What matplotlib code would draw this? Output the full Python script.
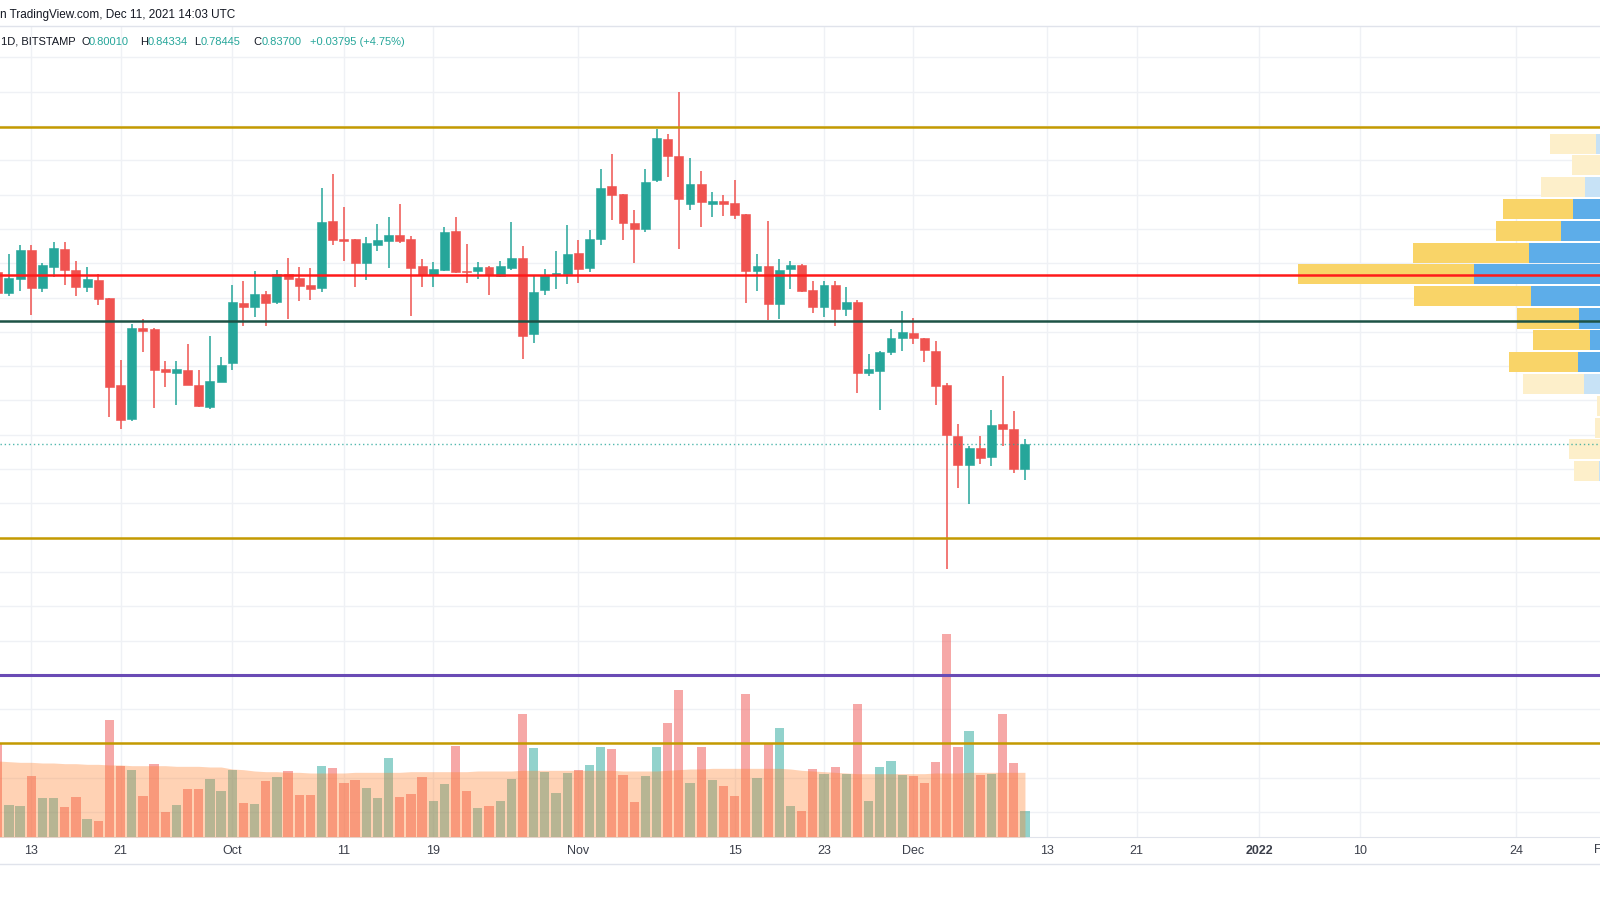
import numpy as np
import pandas as pd
import matplotlib
matplotlib.use("Agg")
import matplotlib.pyplot as plt
import matplotlib.dates as mdates
from matplotlib.lines import Line2D

# XRP/USD daily candles, BITSTAMP
dates = pd.date_range("2021-09-10", "2021-12-11", freq="D")

opens = [1.087, 1.056, 1.077, 1.119, 1.064, 1.095, 1.121, 1.090, 1.065, 1.076,
         1.049, 0.922, 0.873, 1.005, 1.004, 0.946, 0.940, 0.944, 0.922, 0.891, 0.927,
         0.954, 1.042, 1.036, 1.055, 1.043, 1.084, 1.078, 1.068, 1.064, 1.162,
         1.135, 1.135, 1.100, 1.127, 1.133, 1.141, 1.135, 1.096, 1.083, 1.090,
         1.147, 1.089, 1.089, 1.094, 1.081, 1.093, 1.108, 0.997, 1.061, 1.083, 1.084,
         1.115, 1.093, 1.135, 1.212, 1.201, 1.159, 1.150, 1.221, 1.281, 1.257,
         1.187, 1.215, 1.187, 1.190, 1.188, 1.172, 1.089, 1.096, 1.041, 1.092,
         1.098, 1.061, 1.036, 1.068, 1.033, 1.044, 0.940, 0.943, 0.970, 0.991,
         0.999, 0.991, 0.972, 0.922, 0.848, 0.806, 0.830, 0.818, 0.865, 0.859, 0.8001]
highs = [1.095, 1.113, 1.127, 1.127, 1.100, 1.131, 1.131, 1.103, 1.094, 1.084,
         1.049, 0.959, 1.011, 1.019, 1.005, 0.957, 0.957, 0.982, 0.944, 0.994, 0.964,
         1.068, 1.074, 1.089, 1.060, 1.090, 1.108, 1.094, 1.093, 1.209, 1.230,
         1.182, 1.135, 1.138, 1.157, 1.167, 1.187, 1.140, 1.106, 1.102, 1.153,
         1.168, 1.128, 1.102, 1.096, 1.103, 1.160, 1.125, 1.083, 1.092, 1.118, 1.156,
         1.134, 1.148, 1.237, 1.259, 1.201, 1.178, 1.238, 1.296, 1.288, 1.350,
         1.254, 1.234, 1.204, 1.200, 1.221, 1.172, 1.113, 1.162, 1.106, 1.103,
         1.099, 1.074, 1.074, 1.074, 1.065, 1.047, 0.967, 0.972, 1.004, 1.031,
         1.020, 0.991, 0.986, 0.925, 0.865, 0.833, 0.848, 0.886, 0.935, 0.884, 0.84334]
lows = [1.050, 1.052, 1.060, 1.024, 1.058, 1.080, 1.068, 1.052, 1.058, 1.039,
        0.876, 0.859, 0.870, 0.970, 0.889, 0.919, 0.894, 0.922, 0.891, 0.888, 0.927,
        0.945, 1.009, 1.021, 1.008, 1.041, 1.018, 1.045, 1.046, 1.058, 1.127,
        1.103, 1.065, 1.076, 1.118, 1.093, 1.129, 1.023, 1.065, 1.065, 1.089,
        1.086, 1.071, 1.077, 1.054, 1.080, 1.090, 0.961, 0.983, 1.054, 1.062, 1.070,
        1.071, 1.087, 1.127, 1.163, 1.134, 1.101, 1.146, 1.219, 1.225, 1.121,
        1.178, 1.153, 1.168, 1.169, 1.165, 1.042, 1.060, 1.017, 1.019, 1.062,
        1.058, 1.027, 1.021, 1.008, 1.023, 0.911, 0.935, 0.886, 0.966, 0.972,
        0.982, 0.956, 0.894, 0.654, 0.773, 0.749, 0.807, 0.805, 0.833, 0.794, 0.78445]
closes = [1.056, 1.078, 1.119, 1.064, 1.097, 1.122, 1.090, 1.065, 1.077, 1.048,
          0.919, 0.871, 1.005, 1.001, 0.945, 0.941, 0.946, 0.922, 0.892, 0.928, 0.952,
          1.043, 1.036, 1.055, 1.042, 1.084, 1.077, 1.067, 1.062, 1.160, 1.134,
          1.133, 1.100, 1.129, 1.134, 1.141, 1.133, 1.093, 1.083, 1.092, 1.145,
          1.087, 1.087, 1.094, 1.083, 1.096, 1.108, 0.994, 1.058, 1.083, 1.086, 1.113,
          1.092, 1.135, 1.210, 1.200, 1.158, 1.150, 1.219, 1.282, 1.256, 1.193,
          1.215, 1.189, 1.190, 1.187, 1.171, 1.089, 1.096, 1.041, 1.090, 1.098,
          1.060, 1.036, 1.068, 1.033, 1.044, 0.940, 0.946, 0.970, 0.991, 1.000,
          0.991, 0.973, 0.921, 0.849, 0.806, 0.830, 0.816, 0.864, 0.859, 0.800, 0.837]

# volume (M XRP) and its moving average
volumes = [140, 48, 46, 92, 58, 58, 45, 60, 27, 24,
           176, 107, 101, 61, 110, 37, 48, 72, 72, 87, 69,
           100, 51, 49, 84, 90, 99, 63, 63, 107, 103,
           81, 85, 73, 58, 118, 60, 64, 90, 54, 79,
           136, 69, 43, 47, 54, 87, 184, 134, 97, 66, 96,
           100, 108, 135, 132, 93, 52, 91, 135, 171, 221,
           81, 135, 85, 76, 61, 214, 88, 141, 164, 46,
           39, 102, 94, 105, 94, 199, 54, 105, 114, 93,
           91, 81, 112, 304, 135, 159, 93, 94, 184, 111, 39]
vol_ma = [114, 113, 112, 112, 111, 111, 110, 110, 109, 109,
          108, 108, 107, 107, 107, 107, 106, 106, 106, 105, 105,
          102, 101, 99, 98, 98, 97, 97, 96, 96, 96,
          96, 97, 97, 97, 97, 97, 98, 98, 98, 98,
          98, 98, 99, 99, 99, 99, 100, 100, 100, 100, 100,
          100, 100, 100, 100, 99, 99, 99, 99, 100, 101,
          102, 102, 103, 103, 103, 103, 103, 103, 103, 102,
          100, 99, 98, 97, 96, 95, 95, 95, 95, 95,
          95, 95, 96, 96, 96, 97, 97, 97, 97, 97, 97]

# horizontal levels
levels = [(1.298, "#c49a00"), (1.083, "#ff1a1a"), (1.016, "#1d5245"),
          (0.70, "#c49a00"), (0.50, "#6a4bb5"), (0.40, "#c49a00")]
last_price = 0.837

# visible range volume profile (right side)
vp_price = [1.274, 1.243, 1.211, 1.179, 1.147, 1.115, 1.084, 1.052,
            1.019, 0.988, 0.956, 0.924, 0.892, 0.860, 0.829, 0.797]
vp_down = [46, 28, 44, 70, 65, 116, 176, 117, 62, 57, 69, 61, 3, 5, 31, 25]
vp_up = [4, 0, 15, 27, 39, 71, 126, 69, 21, 10, 22, 16, 0, 0, 0, 1]
vp_value_area = [False, False, False, True, True, True, True, True,
                 True, True, True, False, False, False, False, False]

tick_dates = ["2021-09-13", "2021-09-21", "2021-10-01", "2021-10-11", "2021-10-19",
              "2021-11-01", "2021-11-15", "2021-11-23", "2021-12-01", "2021-12-13",
              "2021-12-21", "2022-01-01", "2022-01-10", "2022-01-24"]
tick_labels = ["13", "21", "Oct", "11", "19", "Nov", "15", "23", "Dec", "13",
               "21", "2022", "10", "24"]

UP, DOWN = "#26a69a", "#ef5350"
GRID = "#eff1f5"
TEXT = "#131722"

plt.rcParams["font.family"] = ["Liberation Sans", "DejaVu Sans"]

x = mdates.date2num(dates)
o, h, l, c = map(np.array, (opens, highs, lows, closes))
colors = np.where(c >= o, UP, DOWN)

fig = plt.figure(figsize=(16, 9), dpi=100)
rect = [0, 63 / 900, 1, 811 / 900]
ax_grid = fig.add_axes(rect, zorder=0)
ax_vol = fig.add_axes(rect, zorder=1, sharex=ax_grid)
ax_vp = fig.add_axes(rect, zorder=2, sharey=ax_grid)
ax = fig.add_axes(rect, zorder=3, sharex=ax_grid, sharey=ax_grid)

px_per_day = 11.165
x_left = mdates.date2num(pd.Timestamp("2021-12-01")) - 913.3 / px_per_day
ax_grid.set_xlim(x_left, x_left + 1600 / px_per_day)
ax_grid.set_ylim(0.2636, 1.4458)
ax_vol.set_ylim(0, 1216.5)
ax_vp.set_xlim(1600, 0)

for a in (ax_vol, ax_vp, ax):
    a.patch.set_visible(False)
    a.axis("off")

# grid + time axis
ax_grid.set_xticks(mdates.date2num(pd.to_datetime(tick_dates)))
ax_grid.set_xticklabels(tick_labels)
ax_grid.set_yticks(np.arange(0.30, 1.41, 0.05))
ax_grid.grid(True, color=GRID, lw=1)
ax_grid.tick_params(axis="x", length=0, pad=6, labelsize=9, labelcolor="#3b3f4a")
ax_grid.tick_params(axis="y", length=0, labelleft=False)
for lab in ax_grid.get_xticklabels():
    if lab.get_text() == "2022":
        lab.set_fontweight("bold")
for s in ("top", "left", "right"):
    ax_grid.spines[s].set_visible(False)
ax_grid.spines["bottom"].set_color("#e0e3eb")

# volume
ax_vol.bar(x, volumes, width=0.83, color=colors, alpha=0.5, lw=0)
ax_vol.fill_between(x, 0, vol_ma, color="#ff7f2a", alpha=0.35, lw=0)

# volume profile
for price, dn, up, va in zip(vp_price, vp_down, vp_up, vp_value_area):
    ycol = "#f9d468" if va else "#fdefca"
    bcol = "#5dade9" if va else "#c7e2f6"
    ax_vp.barh(price, up, left=0, height=0.0300, color=bcol, lw=0)
    ax_vp.barh(price, dn, left=up, height=0.0300, color=ycol, lw=0)

# candles
body_lo = np.minimum(o, c)
body_h = np.maximum(np.abs(c - o), 0.0022)
ax.vlines(x, l, h, colors=colors, lw=1.1, zorder=2)
ax.bar(x, body_h, bottom=body_lo, width=0.8, color=colors, edgecolor=colors, lw=0.4, zorder=3)

for lv, col in levels:
    ax.axhline(lv, color=col, lw=2.2 if col == "#6a4bb5" else 1.8, zorder=5)
ax.axhline(last_price, color=UP, lw=1, ls=(0, (1, 2)), alpha=0.8, zorder=4)

# header
fig.add_artist(Line2D([0, 1], [1 - 26 / 900] * 2, color="#e0e3eb", lw=1))
fig.add_artist(Line2D([0, 1], [1 - 864 / 900] * 2, color="#e0e3eb", lw=1))
fig.text(0.5 / 1600, 1 - 15 / 900, "n TradingView.com, Dec 11, 2021 14:03 UTC",
         fontsize=8.5, color=TEXT, va="center", ha="left")
fig.text(1594 / 1600, 1 - 850 / 900, "F", fontsize=9, color="#3b3f4a", va="center", ha="left")

legend_parts = [(1, "1D, BITSTAMP", TEXT), (82, "O", TEXT), (89, "0.80010", UP),
                (140, "H", TEXT), (148, "0.84334", UP), (194, "L", TEXT),
                (201, "0.78445", UP), (253, "C", TEXT), (262, "0.83700", UP),
                (310, "+0.03795 (+4.75%)", UP)]
for xp, txt, col in legend_parts:
    fig.text(xp / 1600, 1 - 42 / 900, txt, fontsize=8, color=col, va="center", ha="left")

fig.savefig("out.png", dpi=100, facecolor="white")
